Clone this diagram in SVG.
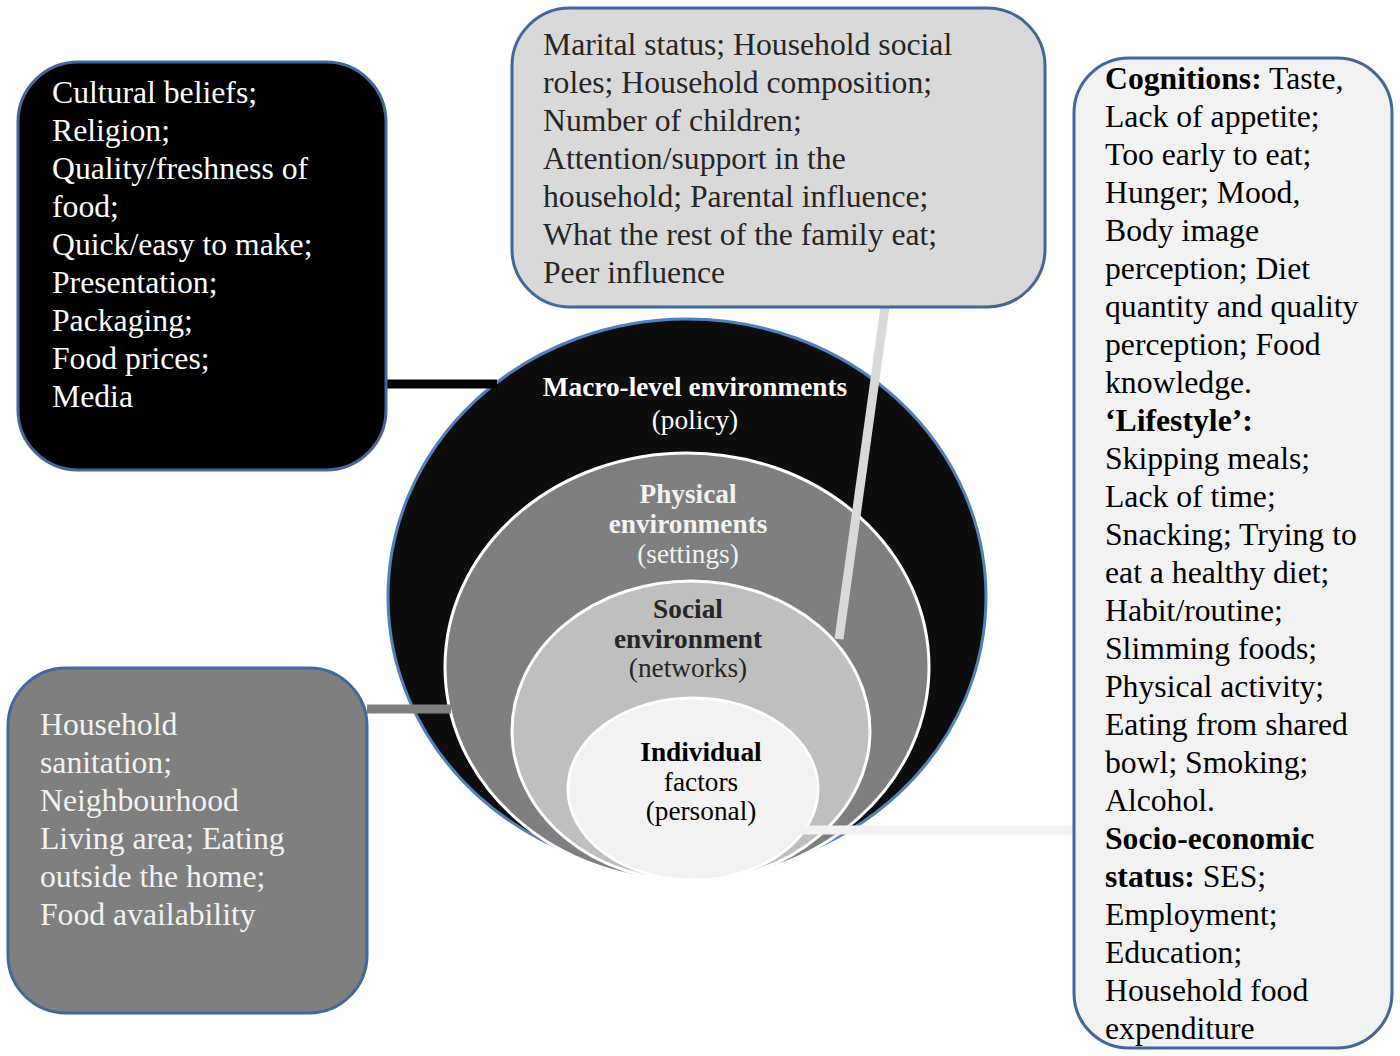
<svg xmlns="http://www.w3.org/2000/svg" width="1400" height="1056" viewBox="0 0 1400 1056">
<style>
.box{stroke:#41679b;stroke-width:3}
.bt{font-family:"Liberation Serif","Times New Roman",serif;font-size:31.7px}
.ct{font-family:"Liberation Serif","Times New Roman",serif;font-size:27.3px;text-anchor:middle}
.b{font-weight:bold}
.ring{stroke:#ffffff;stroke-width:3}
</style>
<rect width="1400" height="1056" fill="#ffffff"/>
<g id="circles">
<g id="macro">
<ellipse cx="687" cy="597" rx="299" ry="278" fill="#0d0d0d" stroke="#4f81bd" stroke-width="3"/>
<text class="ct b" x="695" y="396" fill="#ffffff">Macro-level environments</text>
<text class="ct" x="695" y="429" fill="#ffffff">(policy)</text>
</g>
<g id="physical">
<ellipse cx="687" cy="667" rx="242" ry="214" fill="#7f7f7f" class="ring"/>
<text class="ct b" x="688" y="503" fill="#f2f2f2">Physical</text>
<text class="ct b" x="688" y="533" fill="#f2f2f2">environments</text>
<text class="ct" x="688" y="563" fill="#f2f2f2">(settings)</text>
</g>
<g id="social">
<ellipse cx="691" cy="731" rx="179" ry="150" fill="#bfbfbf" class="ring"/>
<text class="ct b" x="688" y="618" fill="#262626">Social</text>
<text class="ct b" x="688" y="648" fill="#262626">environment</text>
<text class="ct" x="688" y="677" fill="#262626">(networks)</text>
</g>
<g id="individual">
<ellipse cx="693" cy="789" rx="125" ry="91" fill="#f2f2f2" class="ring"/>
<text class="ct b" x="701" y="761" fill="#000000">Individual</text>
<text class="ct" x="701" y="791" fill="#000000">factors</text>
<text class="ct" x="701" y="820" fill="#000000">(personal)</text>
</g>
</g>
<g id="connectors" stroke-width="9" fill="none">
<line x1="386" y1="384" x2="497" y2="384" stroke="#000000"/>
<line x1="367" y1="709" x2="451" y2="709" stroke="#7f7f7f"/>
<line x1="885" y1="307" x2="839" y2="639" stroke="#d9d9d9"/>
<line x1="800" y1="830" x2="1074" y2="830" stroke="#f2f2f2"/>
</g>
<g id="box-macro">
<rect class="box" x="18" y="62" width="368" height="408" rx="60" fill="#000000"/>
<g class="bt" fill="#ffffff">
<text x="52" y="103">Cultural beliefs;</text>
<text x="52" y="141">Religion;</text>
<text x="52" y="179">Quality/freshness of</text>
<text x="52" y="217">food;</text>
<text x="52" y="255">Quick/easy to make;</text>
<text x="52" y="293">Presentation;</text>
<text x="52" y="331">Packaging;</text>
<text x="52" y="369">Food prices;</text>
<text x="52" y="407">Media</text>
</g>
</g>
<g id="box-social">
<rect class="box" x="512" y="8" width="533" height="299" rx="58" fill="#d9d9d9"/>
<g class="bt" fill="#262626">
<text x="543" y="55">Marital status; Household social</text>
<text x="543" y="93">roles; Household composition;</text>
<text x="543" y="131">Number of children;</text>
<text x="543" y="169">Attention/support in the</text>
<text x="543" y="207">household; Parental influence;</text>
<text x="543" y="245">What the rest of the family eat;</text>
<text x="543" y="283">Peer influence</text>
</g>
</g>
<g id="box-individual">
<rect class="box" x="1074" y="58" width="318" height="990" rx="55" fill="#f2f2f2"/>
<g class="bt" fill="#000000">
<text x="1105" y="89"><tspan class="b">Cognitions:</tspan> Taste,</text>
<text x="1105" y="127">Lack of appetite;</text>
<text x="1105" y="165">Too early to eat;</text>
<text x="1105" y="203">Hunger; Mood,</text>
<text x="1105" y="241">Body image</text>
<text x="1105" y="279">perception; Diet</text>
<text x="1105" y="317">quantity and quality</text>
<text x="1105" y="355">perception; Food</text>
<text x="1105" y="393">knowledge.</text>
<text x="1105" y="431" class="b">‘Lifestyle’:</text>
<text x="1105" y="469">Skipping meals;</text>
<text x="1105" y="507">Lack of time;</text>
<text x="1105" y="545">Snacking; Trying to</text>
<text x="1105" y="583">eat a healthy diet;</text>
<text x="1105" y="621">Habit/routine;</text>
<text x="1105" y="659">Slimming foods;</text>
<text x="1105" y="697">Physical activity;</text>
<text x="1105" y="735">Eating from shared</text>
<text x="1105" y="773">bowl; Smoking;</text>
<text x="1105" y="811">Alcohol.</text>
<text x="1105" y="849" class="b">Socio-economic</text>
<text x="1105" y="887"><tspan class="b">status:</tspan> SES;</text>
<text x="1105" y="925">Employment;</text>
<text x="1105" y="963">Education;</text>
<text x="1105" y="1001">Household food</text>
<text x="1105" y="1039">expenditure</text>
</g>
</g>
<g id="box-physical">
<rect class="box" x="8" y="668" width="359" height="345" rx="58" fill="#7f7f7f"/>
<g class="bt" fill="#f2f2f2">
<text x="40" y="735">Household</text>
<text x="40" y="773">sanitation;</text>
<text x="40" y="811">Neighbourhood</text>
<text x="40" y="849">Living area; Eating</text>
<text x="40" y="887">outside the home;</text>
<text x="40" y="925">Food availability</text>
</g>
</g>
</svg>
